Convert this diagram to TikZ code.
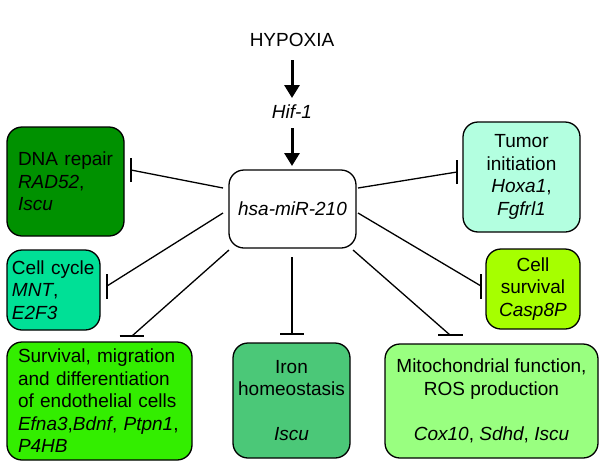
\documentclass[tikz,border=0pt]{standalone}
\usepackage{fontspec}
\setmainfont{Liberation Sans}
\usetikzlibrary{arrows.meta}
\definecolor{cDNA}{RGB}{0,145,0}
\definecolor{cCycle}{RGB}{0,224,150}
\definecolor{cSurv}{RGB}{51,238,0}
\definecolor{cIron}{RGB}{75,200,120}
\definecolor{cMito}{RGB}{153,255,128}
\definecolor{cTumor}{RGB}{179,255,224}
\definecolor{cCell}{RGB}{166,255,0}
\begin{document}
\begin{tikzpicture}[x=1pt,y=-1pt,
  every node/.style={font=\fontsize{19}{22.5}\selectfont},
  box/.style={draw=black,line width=1.3pt,rounded corners=15pt,inner sep=0pt,
    execute at begin node={\hyphenpenalty=10000\exhyphenpenalty=10000\hbadness=10000\hfuzz=20pt}},
  inh/.style={line width=1.3pt},
  bar/.style={line width=1.6pt},
  act/.style={line width=3pt,-{Triangle[width=15pt,length=13pt]}}]
\useasboundingbox (0,0) rectangle (600,469);
% top
\node (hyp) at (292,40) {HYPOXIA};
\node (hif) at (292,112) {\itshape Hif-1};
\node[box,minimum width=127pt,minimum height=78pt] (mir) at (292.5,209) {\itshape hsa-miR-210};
\draw[act] (292,60) coordinate (a1) -- (292,98) coordinate (a2);
\draw[act] (292,128) coordinate (a3) -- (292,166) coordinate (a4);
% boxes
\node[box,fill=cDNA,minimum width=117pt,minimum height=109pt,text width=95pt,align=left] (dna) at (65.5,181.5)
  {DNA~repair\\\textit{RAD52},\\\textit{Iscu}};
\node[box,fill=cCycle,minimum width=93pt,minimum height=80pt,text width=83pt,align=left] (cyc) at (53.5,290)
  {Cell~cycle\\\textit{MNT},\\\textit{E2F3}};
\node[box,fill=cSurv,minimum width=185pt,minimum height=118pt,text width=163pt,align=left] (surv) at (99.5,401)
  {Survival, migration\\and differentiation\\of endothelial cells\\\textit{Efna3},\textit{Bdnf}, \textit{Ptpn1},\\\textit{P4HB}};
\node[box,fill=cIron,minimum width=117pt,minimum height=115pt,align=center] (iron) at (291.5,400.5)
  {Iron\\homeostasis\\~\\\textit{Iscu}};
\node[box,fill=cMito,minimum width=213pt,minimum height=114pt,align=center] (mito) at (491.5,401)
  {Mitochondrial function,\\ROS production\\~\\\textit{Cox10}, \textit{Sdhd}, \textit{Iscu}};
\node[box,fill=cTumor,minimum width=117pt,minimum height=110pt,align=center] (tum) at (521.5,177)
  {Tumor\\initiation\\\textit{Hoxa1},\\\textit{Fgfrl1}};
\node[box,fill=cCell,minimum width=94pt,minimum height=80pt,align=center] (cell) at (533,289)
  {Cell\\survival\\\textit{Casp8P}};
% connector ends
\coordinate (sDNA) at (223,188);  \coordinate (eDNA) at (131,170);
\coordinate (sCyc) at (223,213);  \coordinate (eCyc) at (107,286);
\coordinate (sSurv) at (229,250); \coordinate (eSurv) at (132,336);
\coordinate (sIron) at (292,257); \coordinate (eIron) at (292,334);
\coordinate (sMito) at (353,250); \coordinate (eMito) at (450,335);
\coordinate (sTum) at (358,188);  \coordinate (eTum) at (457,172);
\coordinate (sCell) at (358,213); \coordinate (eCell) at (481,286);
% inhibition lines
\draw[inh] (sDNA) -- (eDNA);
\draw[bar] ([yshift=-12pt]eDNA) -- ([yshift=12pt]eDNA);
\draw[inh] (sCyc) -- (eCyc);
\draw[bar] ([yshift=-12.5pt]eCyc) -- ([yshift=12.5pt]eCyc);
\draw[inh] (sSurv) -- (eSurv);
\draw[bar] ([xshift=-12.5pt]eSurv) -- ([xshift=12pt]eSurv);
\draw[inh] (sIron) -- (eIron);
\draw[bar] ([xshift=-12pt]eIron) -- ([xshift=12pt]eIron);
\draw[inh] (sMito) -- (eMito);
\draw[bar] ([xshift=-12pt]eMito) -- ([xshift=13pt]eMito);
\draw[inh] (sTum) -- (eTum);
\draw[bar] ([yshift=-12pt]eTum) -- ([yshift=12pt]eTum);
\draw[inh] (sCell) -- (eCell);
\draw[bar] ([yshift=-12.5pt]eCell) -- ([yshift=12.5pt]eCell);
\end{tikzpicture}
\end{document}
